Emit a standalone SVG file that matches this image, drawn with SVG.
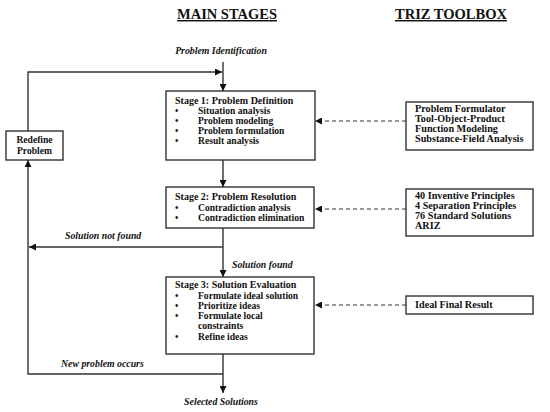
<svg xmlns="http://www.w3.org/2000/svg" width="550" height="412" viewBox="0 0 550 412" font-family="'Liberation Serif', serif">
<defs>
<style>
text{font-family:'Liberation Serif', serif;font-weight:bold;fill:#111;}
.hd{font-size:14.5px;text-decoration:underline;}
.t{font-size:10px;}
.i{font-size:9.6px;}
.tb{font-size:10.2px;}
.lb{font-size:9.8px;font-style:italic;}
.box{fill:#fff;stroke:#333;stroke-width:1.4;}
.ln{fill:none;stroke:#333;stroke-width:1.4;}
.dl{fill:none;stroke:#333;stroke-width:1.2;stroke-dasharray:4,3;}
</style>
<marker id="ah" viewBox="0 0 10 10" refX="10" refY="5" markerWidth="7" markerHeight="7" markerUnits="userSpaceOnUse" orient="auto">
<path d="M0,0 L10,5 L0,10 z" fill="#111"/>
</marker>
</defs>
<rect width="550" height="412" fill="#fff"/>
<g id="headers">
<text class="hd" x="227" y="19" text-anchor="middle">MAIN STAGES</text>
<text class="hd" x="451" y="19" text-anchor="middle">TRIZ TOOLBOX</text>
</g>
<g id="connectors">
<line class="ln" x1="223" y1="62" x2="223" y2="91" marker-end="url(#ah)"/>
<polyline class="ln" points="28,131 28,72 222,72" marker-end="url(#ah)"/>
<line class="ln" x1="223" y1="160" x2="223" y2="187" marker-end="url(#ah)"/>
<line class="ln" x1="223" y1="228" x2="223" y2="277" marker-end="url(#ah)"/>
<line class="ln" x1="223" y1="247" x2="29" y2="247" marker-end="url(#ah)"/>
<line class="ln" x1="223" y1="354" x2="223" y2="393" marker-end="url(#ah)"/>
<polyline class="ln" points="223,374 28,374 28,160" marker-end="url(#ah)"/>
<line class="dl" x1="406" y1="121" x2="315" y2="121" marker-end="url(#ah)"/>
<line class="dl" x1="406" y1="209" x2="315" y2="209" marker-end="url(#ah)"/>
<line class="dl" x1="406" y1="305" x2="315" y2="305" marker-end="url(#ah)"/>
<text class="lb" x="221" y="54" text-anchor="middle">Problem Identification</text>
<text class="lb" x="65" y="239">Solution not found</text>
<text class="lb" x="232" y="268">Solution  found</text>
<text class="lb" x="61" y="367">New problem occurs</text>
<text class="lb" x="221" y="405" text-anchor="middle">Selected Solutions</text>
</g>
<g id="redefine">
<rect class="box" x="6" y="131" width="57" height="29"/>
<text class="i" x="34.5" y="143" text-anchor="middle">Redefine</text>
<text class="i" x="34.5" y="154" text-anchor="middle">Problem</text>
</g>
<g id="stage1">
<rect class="box" x="166" y="91" width="149" height="69"/>
<text class="t" x="175" y="104">Stage 1: Problem Definition</text>
<text class="i" x="175" y="114">•</text><text class="i" x="198" y="114">Situation analysis</text>
<text class="i" x="175" y="124">•</text><text class="i" x="198" y="124">Problem modeling</text>
<text class="i" x="175" y="134">•</text><text class="i" x="198" y="134">Problem formulation</text>
<text class="i" x="175" y="144">•</text><text class="i" x="198" y="144">Result analysis</text>
</g>
<g id="stage2">
<rect class="box" x="166" y="187" width="148" height="41"/>
<text class="t" x="175" y="200">Stage 2: Problem Resolution</text>
<text class="i" x="175" y="211">•</text><text class="i" x="198" y="211">Contradiction analysis</text>
<text class="i" x="175" y="221">•</text><text class="i" x="198" y="221">Contradiction elimination</text>
</g>
<g id="stage3">
<rect class="box" x="166" y="277" width="148" height="77"/>
<text class="t" x="175" y="288">Stage 3: Solution Evaluation</text>
<text class="i" x="175" y="299">•</text><text class="i" x="198" y="299">Formulate ideal solution</text>
<text class="i" x="175" y="309">•</text><text class="i" x="198" y="309">Prioritize ideas</text>
<text class="i" x="175" y="319">•</text><text class="i" x="198" y="319">Formulate local</text>
<text class="i" x="198" y="329">constraints</text>
<text class="i" x="175" y="340">•</text><text class="i" x="198" y="340">Refine ideas</text>
</g>
<g id="tools1">
<rect class="box" x="406" y="102" width="127" height="48"/>
<text class="tb" x="415" y="112">Problem Formulator</text>
<text class="tb" x="415" y="122">Tool-Object-Product</text>
<text class="tb" x="415" y="132">Function Modeling</text>
<text class="tb" x="415" y="142">Substance-Field Analysis</text>
</g>
<g id="tools2">
<rect class="box" x="406" y="189" width="127" height="47"/>
<text class="tb" x="415" y="199">40 Inventive Principles</text>
<text class="tb" x="415" y="209">4 Separation Principles</text>
<text class="tb" x="415" y="219">76 Standard Solutions</text>
<text class="tb" x="415" y="229">ARIZ</text>
</g>
<g id="tools3">
<rect class="box" x="406" y="296" width="127" height="18"/>
<text class="tb" x="415" y="308">Ideal Final Result</text>
</g>
</svg>
